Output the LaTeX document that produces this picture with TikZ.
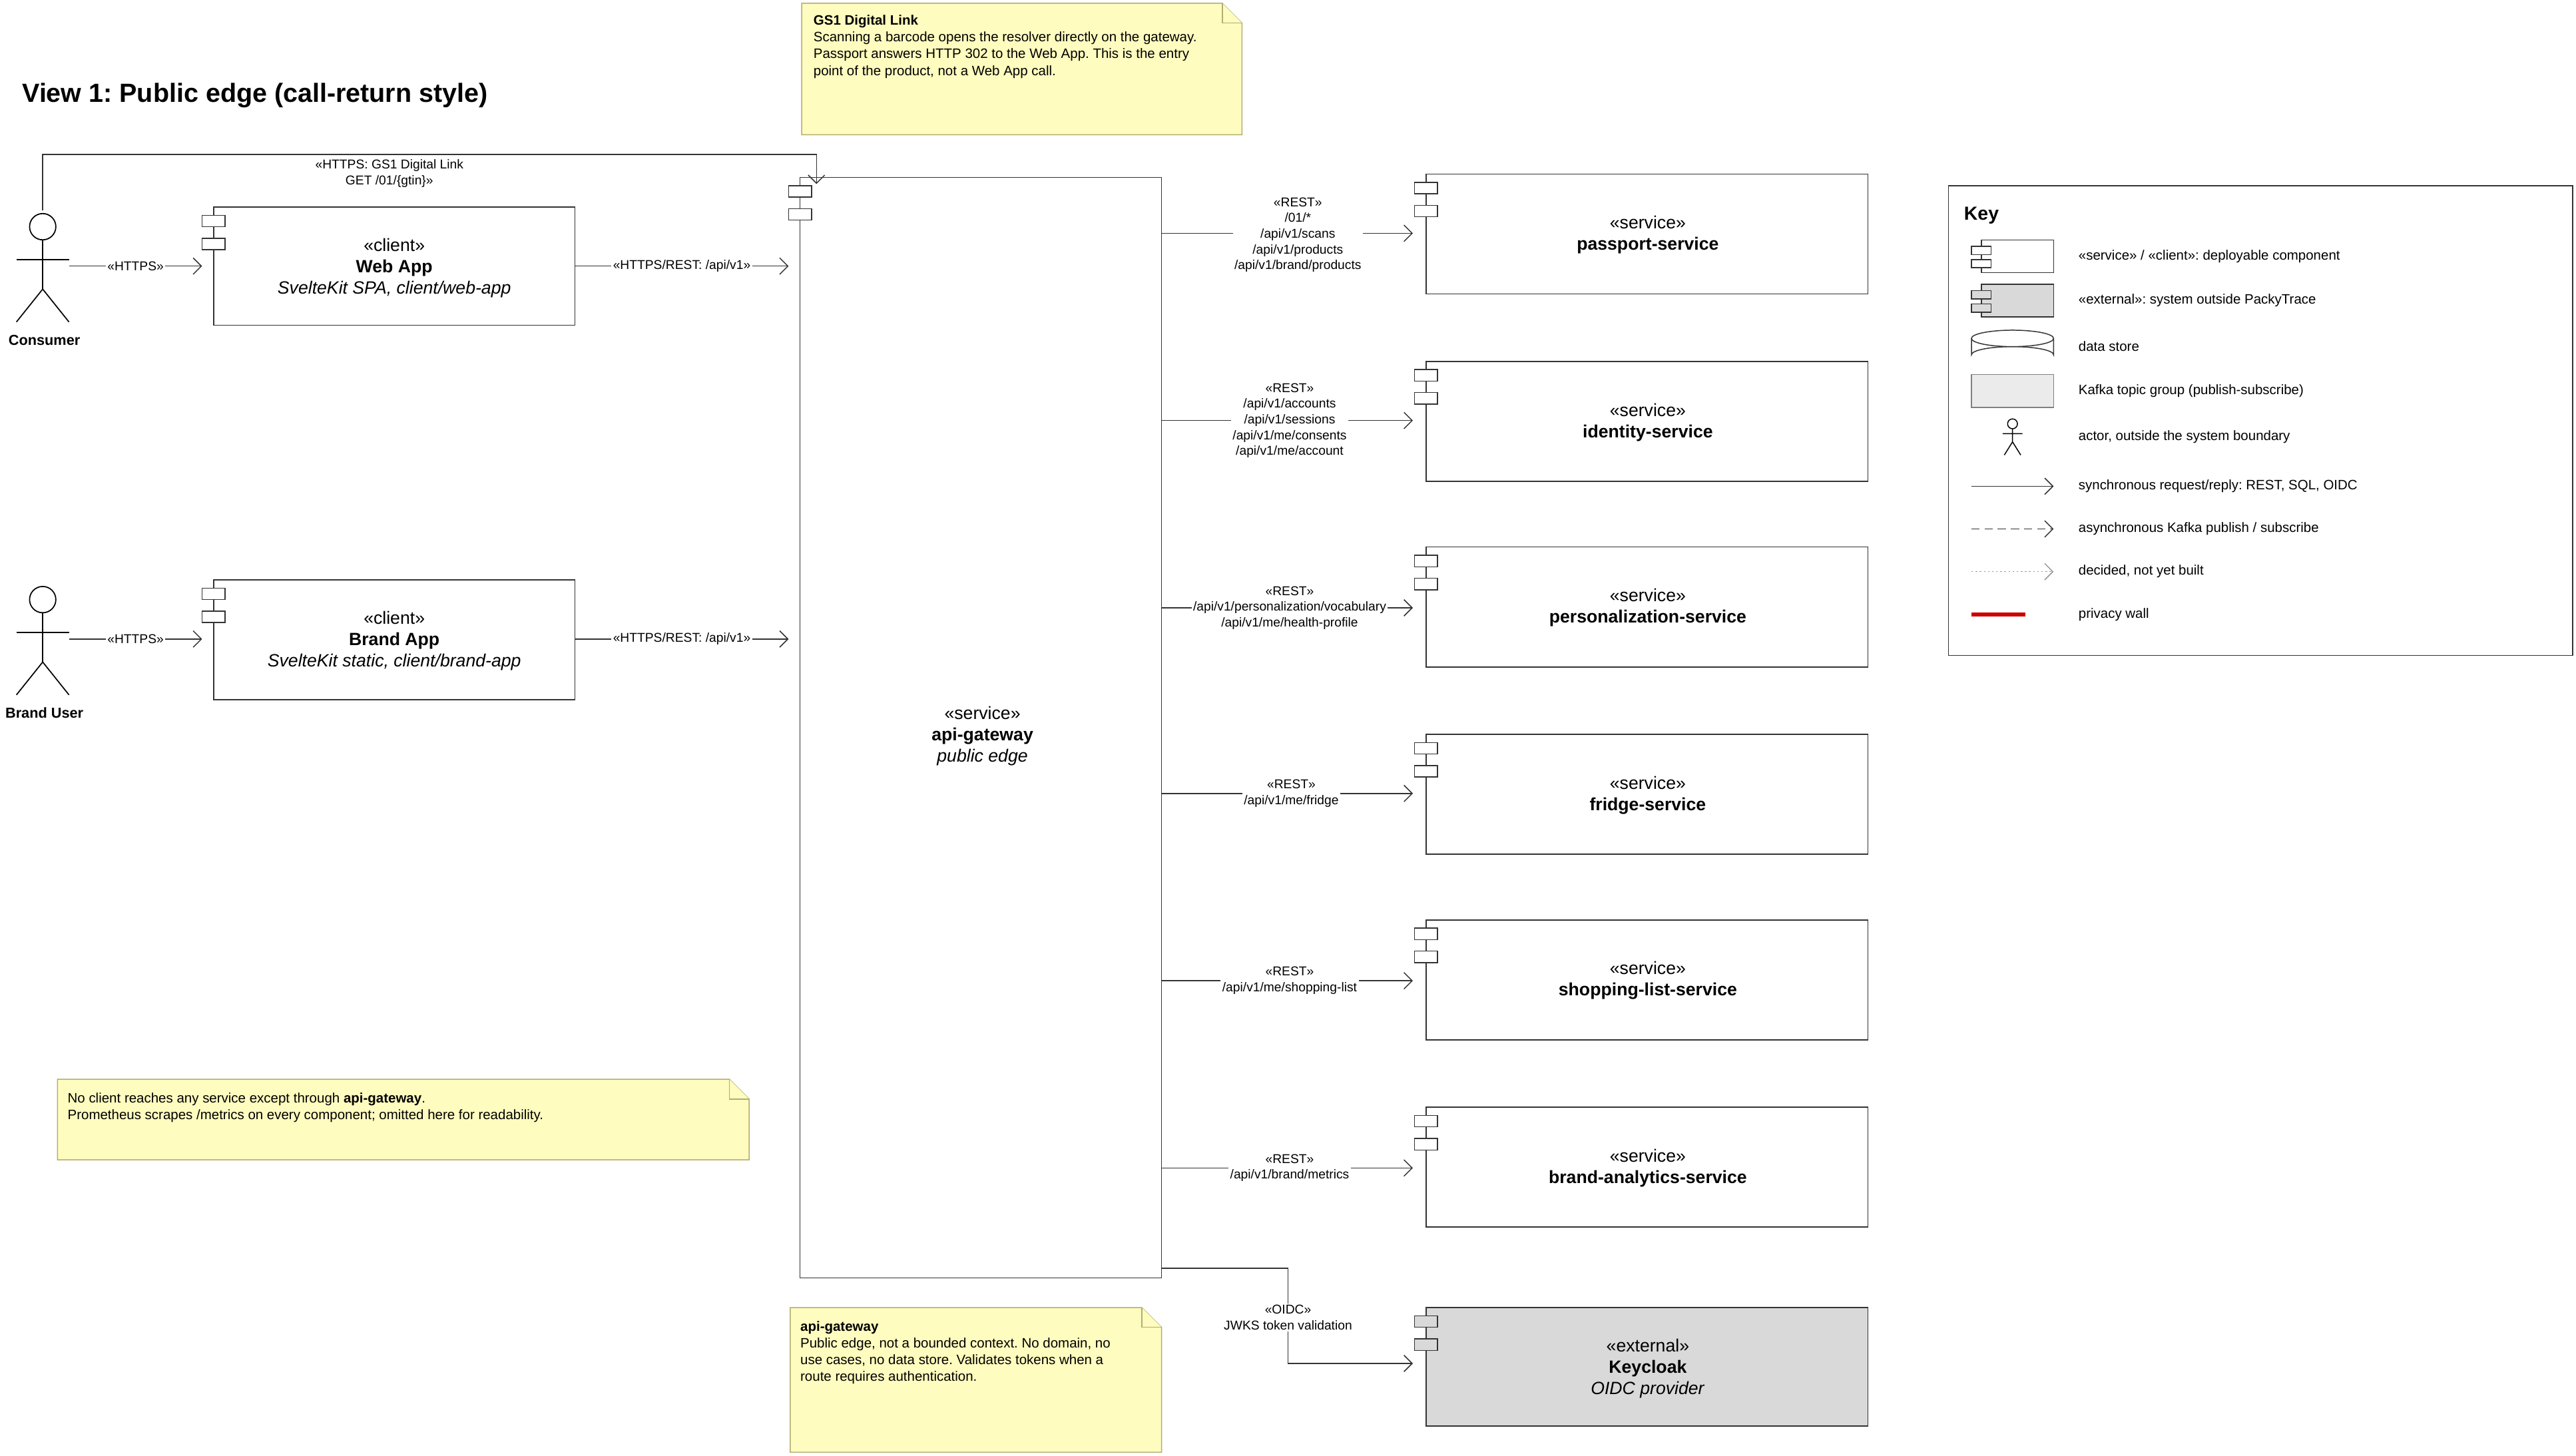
\documentclass[tikz,border=0pt]{standalone}
\usepackage{fontspec}
\setmainfont{Liberation Sans}
\usetikzlibrary{arrows.meta,shapes.geometric}
\begin{document}
\frenchspacing
\begin{tikzpicture}[x=1pt,y=-1pt,
  box/.style={draw=black!80,fill=white,line width=0.6pt},
  small/.style={font=\fontsize{7.8}{9.6}\selectfont,align=center,inner sep=1pt},
  svc/.style={font=\fontsize{10.8}{13}\selectfont,align=center},
  arr/.style={draw=black!80,line width=0.6pt,-{Straight Barb[length=5pt,width=10pt]}},
  note/.style={draw=yellow!50!black!70,fill=yellow!25,line width=0.6pt},
  lbl/.style={fill=white,small}]
\useasboundingbox (0,0) rectangle (1568,886);
\fill[white] (0,0) rectangle (1568,886);
\newcommand{\comp}[5]{%
  \draw[box,fill=#5] (#1,#2) rectangle (#3,#4);
  \draw[box,fill=#5] ({#1-7},{#2+5}) rectangle ({#1+7},{#2+12});
  \draw[box,fill=#5] ({#1-7},{#2+19}) rectangle ({#1+7},{#2+26});}
\newcommand{\actor}[2]{%
  \draw[line width=0.7pt] (#1,#2) circle (8);
  \draw[line width=0.7pt] (#1,{#2+8}) -- (#1,{#2+38});
  \draw[line width=0.7pt] ({#1-16},{#2+20}) -- ({#1+16},{#2+20});
  \draw[line width=0.7pt] ({#1-16},{#2+58}) -- (#1,{#2+38}) -- ({#1+16},{#2+58});}
\newcommand{\notebox}[4]{%
  \draw[note] (#1,#2) -- ({#3-12},#2) -- (#3,{#2+12}) -- (#3,#4) -- (#1,#4) -- cycle;
  \draw[note] ({#3-12},#2) -- ({#3-12},{#2+12}) -- (#3,{#2+12});}

\node[anchor=west,font=\fontsize{16}{19}\selectfont\bfseries] (title) at (10,58) {View 1: Public edge (call-return style)};

\notebox{488}{2}{756}{82}
\node[anchor=north west,font=\fontsize{8.3}{10.2}\selectfont,align=left,inner sep=0] (gs1) at (495,9) {\textbf{GS1 Digital Link}\\Scanning a barcode opens the resolver directly on the gateway.\\Passport answers HTTP 302 to the Web App. This is the entry\\point of the product, not a Web App call.};

\actor{26}{138}
\node[font=\fontsize{8.8}{10}\selectfont\bfseries] (consumer) at (27,207) {Consumer};
\actor{26}{365}
\node[font=\fontsize{8.8}{10}\selectfont\bfseries] (branduser) at (27,434) {Brand User};
\coordinate (cons) at (42,162);
\coordinate (bu) at (42,389);

\comp{130}{126}{350}{198}{white}
\node[svc] (webapp) at (240,163) {«client»\\\textbf{Web App}\\\textit{SvelteKit SPA, client/web-app}};
\comp{130}{353}{350}{426}{white}
\node[svc] (brandapp) at (240,390) {«client»\\\textbf{Brand App}\\\textit{SvelteKit static, client/brand-app}};

\comp{487}{108}{707}{778}{white}
\node[svc] (gw) at (598,448) {«service»\\\textbf{api-gateway}\\\textit{public edge}};

\foreach \y/\n/\id in {106/passport-service/s1,220/identity-service/s2,333/personalization-service/s3,447/fridge-service/s4,560/shopping-list-service/s5,674/brand-analytics-service/s6}{
  \comp{868}{\y}{1137}{\y+73}{white}
  \node[svc] (\id) at (1003,\y+37) {«service»\\\textbf{\n}};
}
\comp{868}{796}{1137}{868}{black!15}
\node[svc] (kc) at (1003,833) {«external»\\\textbf{Keycloak}\\\textit{OIDC provider}};

\draw[arr] (cons) -- (123,162) node[lbl,midway] {«HTTPS»};
\draw[arr] (bu) -- (123,389) node[lbl,midway] {«HTTPS»};
\draw[arr] (350,162) -- (480,162) node[lbl,midway] {«HTTPS/REST: /api/v1»};
\draw[arr] (350,389) -- (480,389) node[lbl,midway] {«HTTPS/REST: /api/v1»};
\draw[arr] (26,128) -- (26,94) -- (497,94) -- (497,112);
\node[small] (gs1lbl) at (237,105.5) {«HTTPS: GS1 Digital Link\\GET /01/\{gtin\}»};

\draw[arr] (707,142) -- (860,142);
\node[lbl] at (790,143) {«REST»\\/01/*\\/api/v1/scans\\/api/v1/products\\/api/v1/brand/products};
\draw[arr] (707,256) -- (860,256);
\node[lbl] at (785,256) {«REST»\\/api/v1/accounts\\/api/v1/sessions\\/api/v1/me/consents\\/api/v1/me/account};
\draw[arr] (707,370) -- (860,370);
\node[lbl] at (785,370) {«REST»\\/api/v1/personalization/vocabulary\\/api/v1/me/health-profile};
\draw[arr] (707,483) -- (860,483);
\node[lbl] at (786,483) {«REST»\\/api/v1/me/fridge};
\draw[arr] (707,597) -- (860,597);
\node[lbl] at (785,597) {«REST»\\/api/v1/me/shopping-list};
\draw[arr] (707,711) -- (860,711);
\node[lbl] at (785,711) {«REST»\\/api/v1/brand/metrics};
\draw[arr] (707,772) -- (784,772) -- (784,830) -- (860,830);
\node[lbl] at (784,802) {«OIDC»\\JWKS token validation};

\notebox{35}{657}{456}{706}
\node[anchor=north west,font=\fontsize{8.3}{10.2}\selectfont,align=left,inner sep=0] (n2) at (41,665) {No client reaches any service except through \textbf{api-gateway}.\\Prometheus scrapes /metrics on every component; omitted here for readability.};

\notebox{481}{796}{707}{884}
\node[anchor=north west,font=\fontsize{8.3}{10.2}\selectfont,align=left,inner sep=0] (n3) at (487,804) {\textbf{api-gateway}\\Public edge, not a bounded context. No domain, no\\use cases, no data store. Validates tokens when a\\route requires authentication.};

\draw[box] (1186,113) rectangle (1566,399);
\node[anchor=west,font=\fontsize{11.5}{13}\selectfont\bfseries] (key) at (1192,131) {Key};
\tikzset{kt/.style={anchor=west,font=\fontsize{8.3}{10}\selectfont,inner sep=0}}
\draw[box] (1206,146) rectangle (1250,166);
\draw[box] (1200,150) rectangle (1212,155); \draw[box] (1200,158) rectangle (1212,163);
\node[kt] at (1265,156) {«service» / «client»: deployable component};
\draw[box,fill=black!15] (1206,173) rectangle (1250,193);
\draw[box,fill=black!15] (1200,177) rectangle (1212,182); \draw[box,fill=black!15] (1200,185) rectangle (1212,190);
\node[kt] at (1265,183) {«external»: system outside PackyTrace};
\draw[box] (1200,206) -- (1200,216) arc[start angle=180,end angle=360,x radius=25,y radius=5] -- (1250,206);
\draw[box] (1225,206) ellipse [x radius=25,y radius=5];
\node[kt] at (1265,211) {data store};
\draw[draw=black!50,fill=black!8,line width=0.6pt] (1200,228) rectangle (1250,248);
\node[kt] at (1265,238) {Kafka topic group (publish-subscribe)};
\draw[line width=0.6pt] (1225,258) circle (3);
\draw[line width=0.6pt] (1225,261) -- (1225,269) (1219,264) -- (1231,264) (1220,277) -- (1225,269) -- (1230,277);
\node[kt] at (1265,266) {actor, outside the system boundary};
\draw[arr] (1200,296) -- (1250,296);
\node[kt] at (1265,296) {synchronous request/reply: REST, SQL, OIDC};
\draw[arr,dash pattern=on 5pt off 3pt] (1200,322) -- (1250,322);
\node[kt] at (1265,322) {asynchronous Kafka publish / subscribe};
\draw[arr,draw=black!40,dash pattern=on 1pt off 1.5pt] (1200,348) -- (1250,348);
\node[kt] at (1265,348) {decided, not yet built};
\draw[draw=red!80!black,line width=2.5pt] (1200,374) -- (1233,374);
\node[kt] at (1265,374) {privacy wall};
\end{tikzpicture}
\end{document}
